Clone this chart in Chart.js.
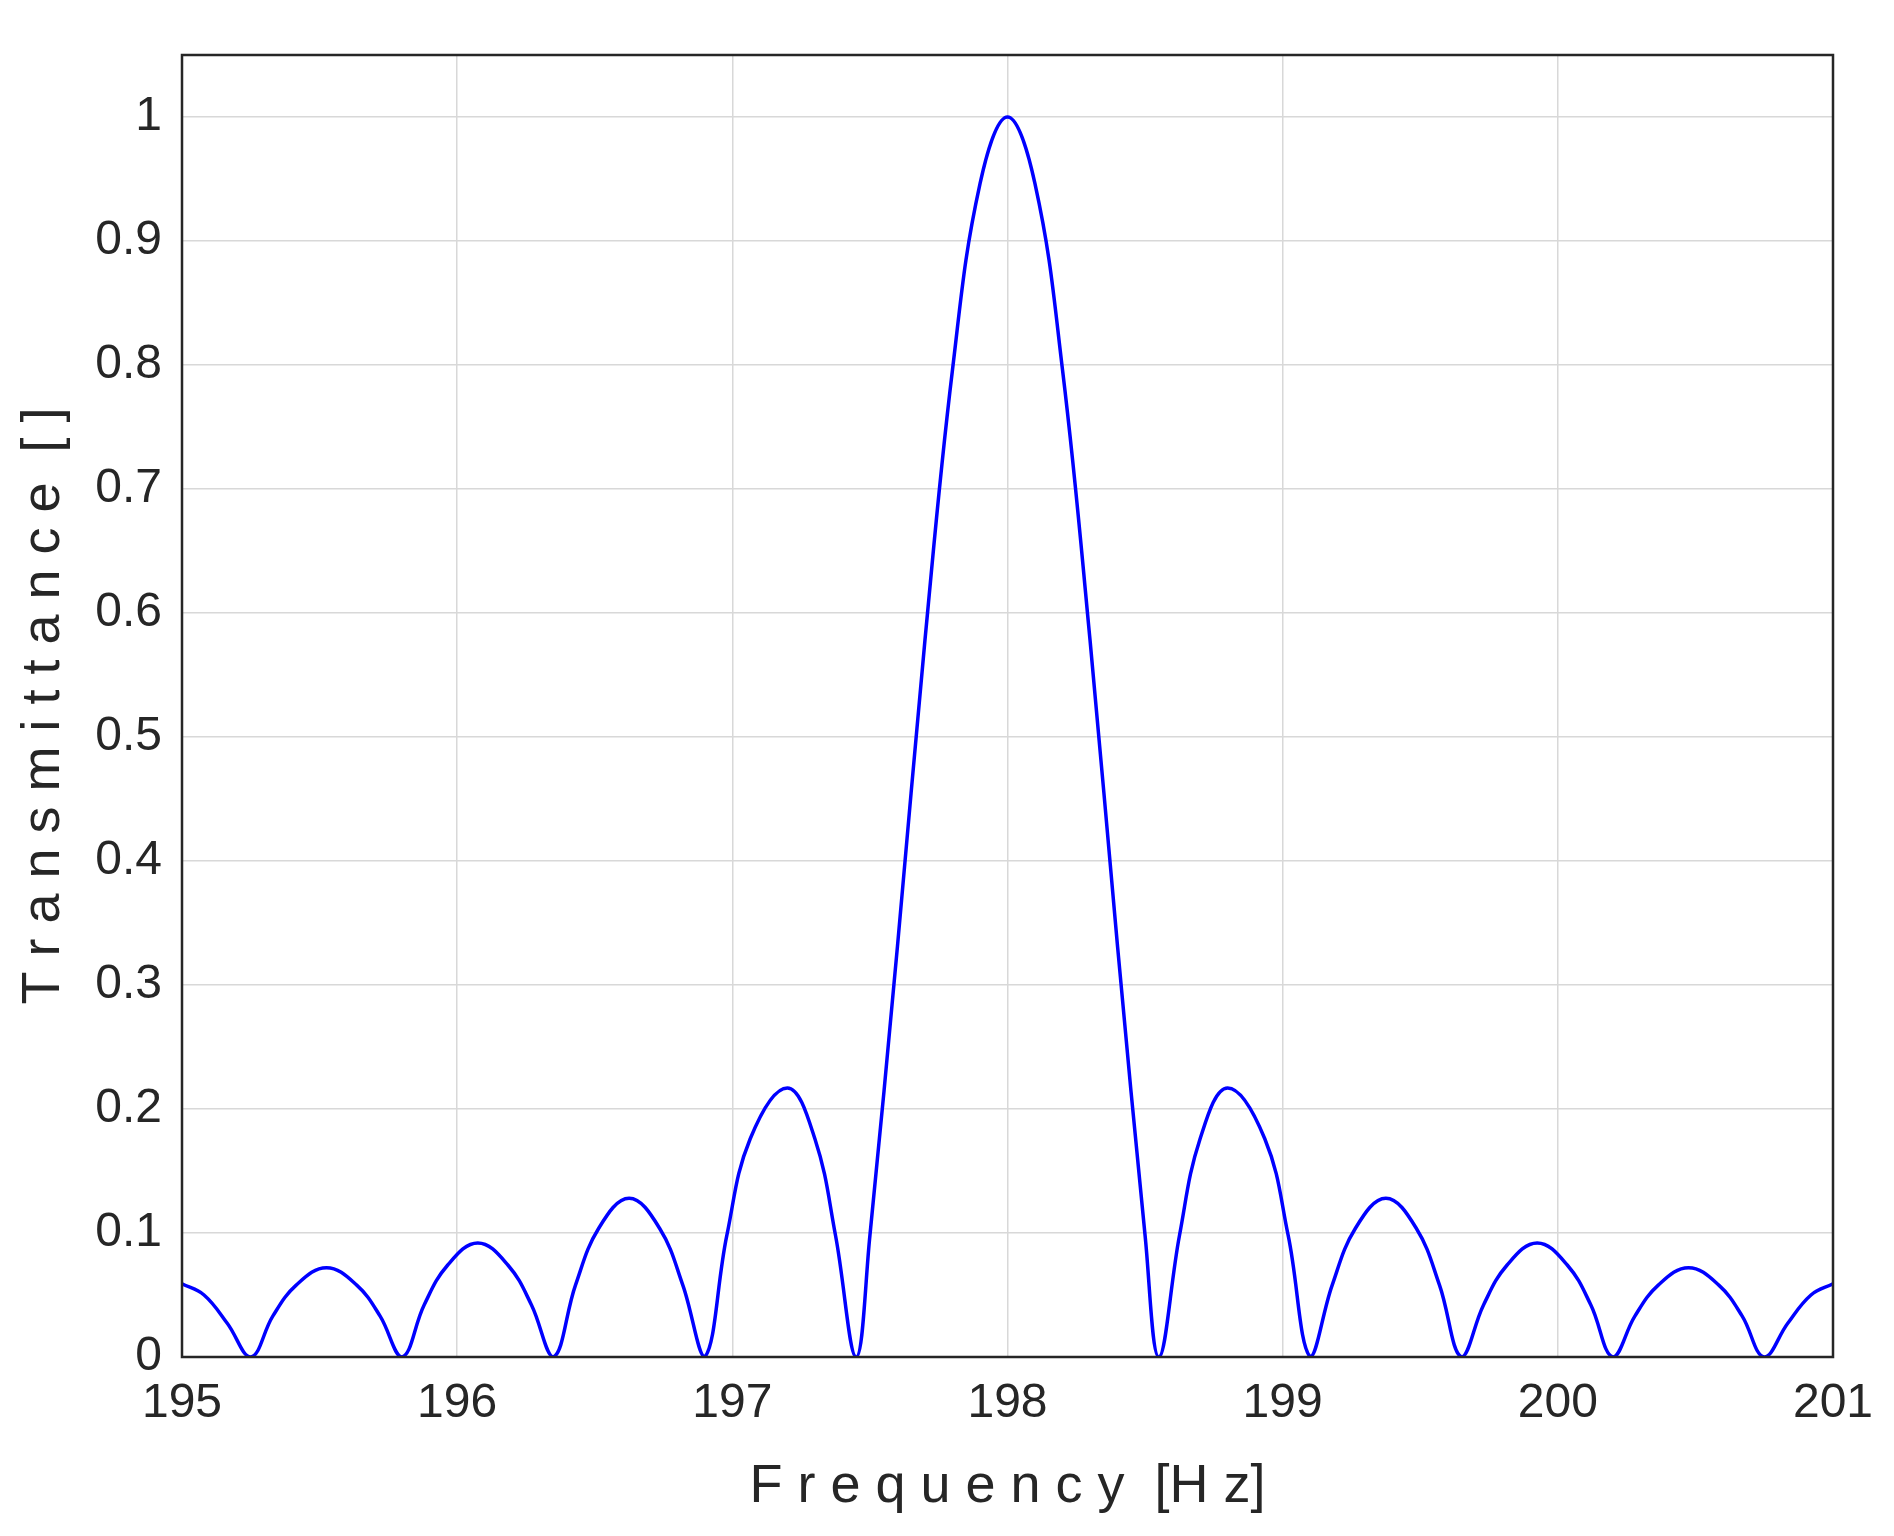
<!DOCTYPE html>
<html>
<head>
<meta charset="utf-8">
<script src="https://cdn.jsdelivr.net/npm/chart.js@4.4.1/dist/chart.umd.min.js"></script>
<style>
  html, body { margin: 0; padding: 0; background: #fff; }
  #wrap { width: 1894px; height: 1536px; }
</style>
</head>
<body>
<div id="wrap"><canvas id="chart" width="1894" height="1536"></canvas></div>
<script>
// values
const freq = [
  195.0, 195.08, 195.165, 195.25,
  195.33, 195.415, 195.525, 195.635, 195.72, 195.8,
  195.88, 195.965, 196.075, 196.185, 196.27, 196.35,
  196.43, 196.515, 196.625, 196.735, 196.82, 196.9,
  196.98, 197.065, 197.2, 197.3, 197.375, 197.45,
  197.5, 197.6, 197.7, 197.8, 197.9, 198.0, 198.1, 198.2, 198.3, 198.4, 198.5,
  198.55, 198.625, 198.7, 198.8, 198.935, 199.02, 199.1,
  199.18, 199.265, 199.375, 199.485, 199.57, 199.65,
  199.73, 199.815, 199.925, 200.035, 200.12, 200.2,
  200.28, 200.365, 200.475, 200.585, 200.67, 200.75,
  200.835, 200.92, 201.0
]
const trans = [
  0.059, 0.050, 0.027, 0,
  0.033, 0.058, 0.072, 0.058, 0.033, 0,
  0.042, 0.074, 0.092, 0.074, 0.042, 0,
  0.058, 0.104, 0.128, 0.104, 0.058, 0,
  0.098, 0.176, 0.217, 0.176, 0.098, 0,
  0.098, 0.331, 0.578, 0.796, 0.946, 1.0, 0.946, 0.796, 0.578, 0.331, 0.098,
  0, 0.098, 0.176, 0.217, 0.176, 0.098, 0,
  0.058, 0.104, 0.128, 0.104, 0.058, 0,
  0.042, 0.074, 0.092, 0.074, 0.042, 0,
  0.033, 0.058, 0.072, 0.058, 0.033, 0,
  0.027, 0.050, 0.059
]
const xTicks = [195, 196, 197, 198, 199, 200, 201]
const yTicks = [0, 0.1, 0.2, 0.3, 0.4, 0.5, 0.6, 0.7, 0.8, 0.9, 1]

const font = 'Liberation Sans, Arial, sans-serif'

const boxPlugin = {
  id: 'box',
  afterDraw(chart) {
    const { ctx, chartArea: a } = chart
    ctx.save()
    ctx.strokeStyle = '#262626'
    ctx.lineWidth = 2.5
    ctx.strokeRect(a.left, a.top, a.right - a.left, a.bottom - a.top)
    ctx.restore()
  }
}

new Chart(document.getElementById('chart'), {
  type: 'line',
  data: {
    datasets: [{
      data: freq.map((f, i) => ({ x: f, y: trans[i] })),
      borderColor: '#0000ff',
      borderWidth: 3.5,
      pointRadius: 0,
      tension: 0.4,
      fill: false
    }]
  },
  options: {
    responsive: false,
    animation: false,
    layout: { padding: { top: 55, right: 61 } },
    plugins: { legend: { display: false }, tooltip: { enabled: false } },
    scales: {
      x: {
        type: 'linear',
        min: 195,
        max: 201,
        afterBuildTicks: s => { s.ticks = xTicks.map(v => ({ value: v })) },
        afterFit: s => { s.height = 179 },
        grid: { color: '#d8d8d8', lineWidth: 1.5, drawTicks: false },
        border: { display: false },
        ticks: { color: '#262626', font: { family: font, size: 48 }, padding: 18, maxRotation: 0, callback: v => String(v) },
        title: {
          display: true,
          text: 'F r e q u e n c y  [H z]',
          color: '#262626',
          font: { family: font, size: 54 },
          padding: { top: 0, bottom: 16 }
        }
      },
      y: {
        type: 'linear',
        min: 0,
        max: 1.05,
        afterBuildTicks: s => { s.ticks = yTicks.map(v => ({ value: v })) },
        afterFit: s => { s.width = 182 },
        grid: { color: '#d8d8d8', lineWidth: 1.5, drawTicks: false },
        border: { display: false },
        ticks: { color: '#262626', font: { family: font, size: 48 }, padding: 20, callback: v => String(v) },
        title: {
          display: true,
          text: 'T r a n s m i t t a n c e  [ ]',
          color: '#262626',
          font: { family: font, size: 54 },
          padding: { top: 12, bottom: 0 }
        }
      }
    }
  },
  plugins: [boxPlugin]
})
</script>
</body>
</html>
